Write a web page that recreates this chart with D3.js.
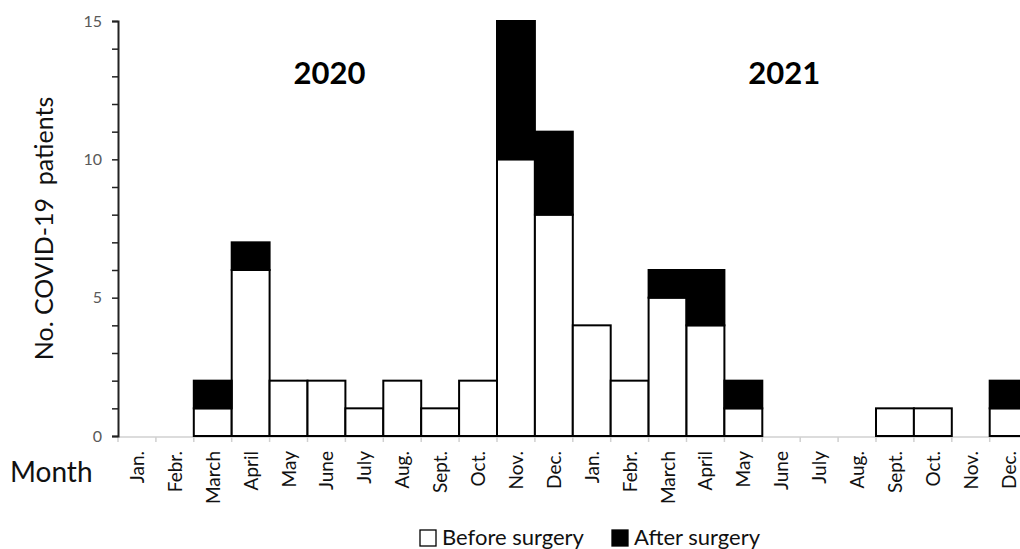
<!DOCTYPE html>
<html>
<head>
<meta charset="utf-8">
<script src="https://cdn.jsdelivr.net/npm/d3@7"></script>
<style>
  body { margin: 0; background: #fff; }
  svg { display: block; font-family: Lato, "Open Sans", sans-serif; }
</style>
</head>
<body>
<div id="app"></div>
<script>
const months = ['Jan.', 'Febr.', 'March', 'April', 'May', 'June', 'July', 'Aug.', 'Sept.', 'Oct.', 'Nov.', 'Dec.',
                'Jan.', 'Febr.', 'March', 'April', 'May', 'June', 'July', 'Aug.', 'Sept.', 'Oct.', 'Nov.', 'Dec.'];
const beforeSurgery = [0, 0, 1, 6, 2, 2, 1, 2, 1, 2, 10, 8, 4, 2, 5, 4, 1, 0, 0, 0, 1, 1, 0, 1];
const afterSurgery  = [0, 0, 1, 1, 0, 0, 0, 0, 0, 0, 5, 3, 0, 0, 1, 2, 1, 0, 0, 0, 0, 0, 0, 1];
const years = [{ label: '2020', from: 0, to: 11 }, { label: '2021', from: 12, to: 23 }];
const yTicks = [0, 5, 10, 15];

const width = 1020;
const height = 549;
const left = 118;
const step = 37.9;

const svg = d3.select('#app')
              .append('svg')
              .attr('width', width)
              .attr('height', height)

const x = d3.scaleBand()
            .domain(d3.range(months.length))
            .range([left, left + step * months.length])
            .padding(0)

const y = d3.scaleLinear()
            .domain([0, 15])
            .range([436, 21])

// x baseline with light ticks at bar edges
svg.append('line')
   .attr('x1', left).attr('x2', width)
   .attr('y1', y(0) + 1).attr('y2', y(0) + 1)
   .attr('stroke', '#d0d0d0').attr('stroke-width', 1.5)

svg.selectAll('.xtick')
   .data(d3.range(months.length + 1))
   .enter()
   .append('line')
   .attr('x1', d => left + d * step).attr('x2', d => left + d * step)
   .attr('y1', y(0) + 1).attr('y2', y(0) + 6)
   .attr('stroke', '#d0d0d0').attr('stroke-width', 1.5)

const rows = months.map((m, i) => ({ i, before: beforeSurgery[i], after: afterSurgery[i] }))

// before surgery (white)
svg.selectAll('.before')
   .data(rows.filter(d => d.before > 0))
   .enter()
   .append('rect')
   .attr('x', d => x(d.i))
   .attr('width', x.bandwidth())
   .attr('y', d => y(d.before))
   .attr('height', d => y(0) - y(d.before))
   .attr('fill', '#fff')
   .attr('stroke', '#000')
   .attr('stroke-width', 2)

// after surgery (black), stacked on top
svg.selectAll('.after')
   .data(rows.filter(d => d.after > 0))
   .enter()
   .append('rect')
   .attr('x', d => x(d.i))
   .attr('width', x.bandwidth())
   .attr('y', d => y(d.before + d.after))
   .attr('height', d => y(d.before) - y(d.before + d.after))
   .attr('fill', '#000')
   .attr('stroke', '#000')
   .attr('stroke-width', 2)

// y axis
const yAxis = d3.axisLeft(y)
                .tickValues(d3.range(0, 16))
                .tickSize(6)
                .tickFormat(d => yTicks.includes(d) ? d : '')

const ya = svg.append('g')
              .attr('transform', `translate(${left}, 0)`)
              .call(yAxis)

ya.select('.domain').attr('stroke', '#222').attr('stroke-width', 2)
ya.selectAll('.tick line').attr('stroke', '#222').attr('stroke-width', 1.5)
ya.selectAll('.tick text')
  .attr('fill', '#595959')
  .attr('font-size', 16)
  .attr('font-family', 'Lato, sans-serif')
  .attr('x', -16)

svg.append('text')
   .attr('transform', `translate(53, ${y(7.5)}) rotate(-90)`)
   .attr('text-anchor', 'middle')
   .attr('font-size', 25)
   .attr('fill', '#111')
   .attr('xml:space', 'preserve')
   .text('No. COVID-19  patients')

// month labels
svg.selectAll('.month')
   .data(months)
   .enter()
   .append('text')
   .attr('transform', (d, i) => `translate(${x(i) + x.bandwidth() / 2 + 7}, 451) rotate(-90)`)
   .attr('text-anchor', 'end')
   .attr('font-size', 19)
   .attr('fill', '#111')
   .text(d => d)

svg.append('text')
   .attr('x', 10)
   .attr('y', 482)
   .attr('font-size', 28)
   .attr('fill', '#111')
   .text('Month')

// year labels
svg.selectAll('.year')
   .data(years)
   .enter()
   .append('text')
   .attr('x', d => (x(d.from) + x(d.to) + x.bandwidth()) / 2 - 16)
   .attr('y', 84)
   .attr('text-anchor', 'middle')
   .attr('font-size', 31)
   .attr('font-weight', 'bold')
   .attr('fill', '#000')
   .text(d => d.label)

// legend
const legend = [{ label: 'Before surgery', fill: '#fff', x: 420 }, { label: 'After surgery', fill: '#000', x: 612 }]
const lg = svg.selectAll('.legend')
              .data(legend)
              .enter()
              .append('g')
              .attr('transform', d => `translate(${d.x}, 529)`)

lg.append('rect')
  .attr('width', 16).attr('height', 16)
  .attr('y', 1)
  .attr('fill', d => d.fill)
  .attr('stroke', '#000')
  .attr('stroke-width', 1.3)

lg.append('text')
  .attr('x', 22)
  .attr('y', 16)
  .attr('font-size', 22)
  .attr('fill', '#111')
  .text(d => d.label)
</script>
</body>
</html>
